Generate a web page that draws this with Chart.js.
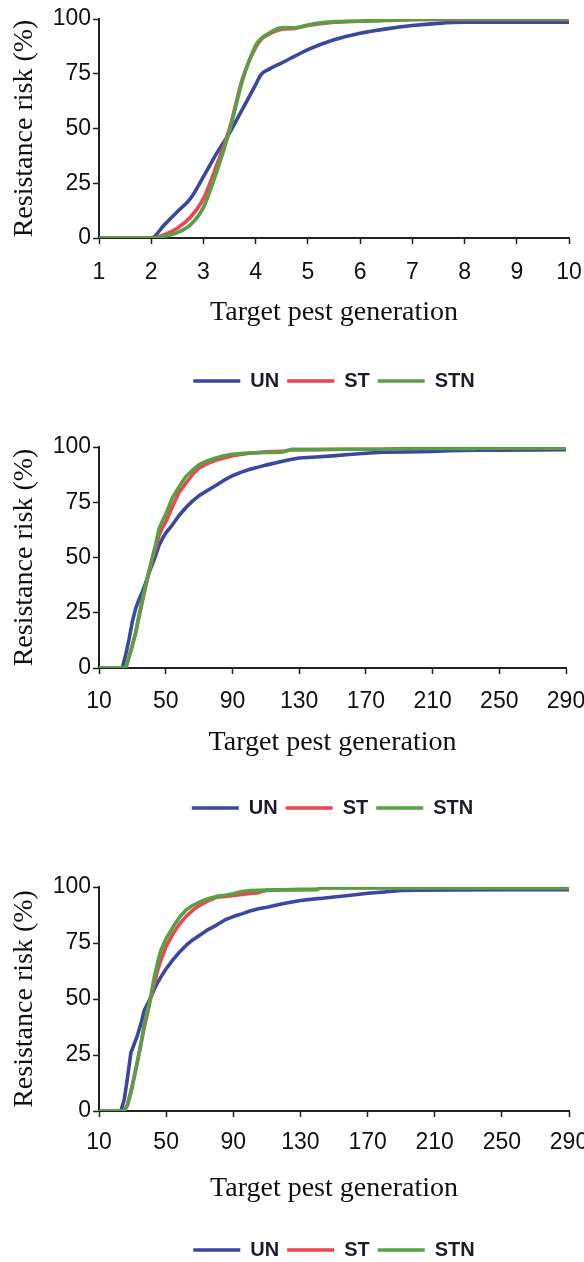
<!DOCTYPE html>
<html>
<head>
<meta charset="utf-8">
<script src="https://cdn.jsdelivr.net/npm/chart.js@4.4.1/dist/chart.umd.min.js"></script>
<style>
html,body{margin:0;padding:0;background:#fff;width:584px;height:1262px;overflow:hidden}
.box{position:absolute;left:0;width:584px}
canvas{display:block}
</style>
</head>
<body>
<div class="box" style="top:0"><canvas id="c1" width="584" height="410"></canvas></div>
<div class="box" style="top:410px"><canvas id="c2" width="584" height="430"></canvas></div>
<div class="box" style="top:840px"><canvas id="c3" width="584" height="430"></canvas></div>
<script>
/* resistance risk curves, 3 panels */
const seriesNames=['UN','ST','STN'];
const seriesColors=['#3a47a3','#ec4651','#58a044'];
const yTicks=[0,25,50,75,100];

// panel 1 (generations 1-10)
const xTicks1=[1,2,3,4,5,6,7,8,9,10];
const gen1=[1,2,2.25,2.5,2.75,3,3.25,3.5,3.75,4,4.1,4.25,4.5,4.75,5,5.5,6,6.5,7,7.5,8,9,10];
const un1=[0,0,6,12,18,28,38.5,48,59,70,74.5,77,80,83,86,90.5,93.5,95.5,97,98,98.5,98.5,98.5];
const st1=[0,0,1.5,4.5,9.5,18,33,50,73,87,90.5,93,95.3,95.7,97,98.5,99,99.3,99.7,99.8,99.8,99.8,99.8];
const stn1=[0,0,0.8,2.5,6,14,30,49,72,88,91,93.5,96,96,97.3,98.8,99,99.5,99.8,100,100,100,100];

// panel 2 (generations 10-290)
const xTicks2=[10,50,90,130,170,210,250,290];
const gen2=[10,24,26,28,30,32,34,36,38,40,42,44,46,48,50,54,58,62,66,70,75,80,85,90,95,100,110,120,125,130,140,150,160,170,180,192,194,210,220,236,238,250,270,290];
const un2=[0,0,6,13,21,27,31,34.5,38.5,43,47,51,55.5,58.5,61,64.8,69,72.5,75.5,78,80.3,82.6,85,87,88.5,89.8,91.8,93.5,94.3,95,95.5,96,96.6,97.2,97.6,97.8,97.8,98,98.3,98.5,98.5,98.6,98.7,98.8];
const st2=[0,0,0,5,10.5,16,23,30,37,43.5,49.5,54.5,60,63.5,66,73,79.5,83.5,87.5,90.5,92.5,94,95,96,96.6,97.2,97.8,98,98.8,98.8,98.8,98.9,99,99,99,99.2,100,100,100,100,99.5,99.5,99.5,99.5];
const stn2=[0,0,0,5,10,16,24,31,37.5,44,50,56,63,66.5,69.5,77,82,86.5,89.5,92,93.8,95,96,96.7,97,97.3,97.5,97.7,98.8,98.8,98.9,99,99,99,99,99.2,99.2,99.3,99.3,99.4,99.5,99.6,99.6,99.6];

// panel 3 (generations 10-290)
const xTicks3=[10,50,90,130,170,210,250,290];
const gen3=[10,23,25,27,29,31,33,35,37,39,41,43,45,47,50,54,58,62,66,70,75,80,85,90,95,100,105,110,120,130,140,142,150,160,170,180,190,200,220,250,290];
const un3=[0,0,5,15,26,30,34,39,45,48,51,54.5,57.5,60,63.5,67.5,71,74,76.5,78.5,81,83,85.3,86.8,88,89.3,90.3,91,92.6,94,94.8,94.9,95.5,96.3,97.2,97.8,98.5,98.6,98.7,98.8,98.8];
const st3=[0,0,0,3,9,15.5,22.5,30,37.5,44,51,57,63,67.5,73.5,79,83.5,87,89.7,91.8,93.8,95.4,95.8,96.2,96.7,97.1,97.5,98.5,98.8,99,99,99.7,99.7,99.7,99.7,99.7,99.7,99.7,99.7,99.7,99.7];
const stn3=[0,0,0,2.5,8,15,22.5,30,39,45,52,60,66.5,72,77,82,86.6,89.8,91.8,93.3,94.8,95.8,96.3,97,98,98.4,98.5,98.6,98.7,98.7,98.8,99.6,99.6,99.6,99.6,99.6,99.6,99.6,99.6,99.6,99.6];

const sans="'Liberation Sans', Arial, sans-serif";
const serif="'Liberation Serif', 'Times New Roman', serif";

function panel(id,gen,vals,xTicks,o){
  const ds=vals.map((v,i)=>({
    label:seriesNames[i],
    data:gen.map((g,j)=>({x:g,y:v[j]})),
    borderColor:seriesColors[i],backgroundColor:seriesColors[i],
    borderWidth:3.6,pointRadius:0,borderCapStyle:'round',borderJoinStyle:'round',
    cubicInterpolationMode:o.smooth?'monotone':'default',tension:0,
    order:3-i
  }));
  return new Chart(document.getElementById(id),{
    type:'line',
    data:{datasets:ds},
    options:{
      responsive:false,animation:false,events:[],
      layout:{autoPadding:false,padding:{left:0,right:o.right,top:o.top,bottom:o.bottom}},
      plugins:{
        tooltip:{enabled:false},
        legend:{position:'bottom',fullSize:false,
          labels:{usePointStyle:true,pointStyle:'line',pointStyleWidth:47,padding:8,color:'#1c1c2c',
            font:{family:sans,size:20,weight:'bold'},
            sort:(a,b)=>a.datasetIndex-b.datasetIndex}}
      },
      scales:{
        x:{type:'linear',min:xTicks[0],max:xTicks[xTicks.length-1],
          afterBuildTicks:s=>{s.ticks=xTicks.map(v=>({value:v}));},
          afterFit:s=>{s.height=o.xh;s.paddingLeft=0;s.paddingRight=0;},
          grid:{drawOnChartArea:false,tickLength:6,color:'#222',tickWidth:1.5},
          border:{color:'#222',width:2},
          ticks:{padding:o.tp,color:'#111',maxRotation:0,autoSkip:false,font:{family:sans,size:23}},
          title:{display:true,text:'Target pest generation',color:'#111',font:{family:serif,size:28},padding:{top:0,bottom:o.tgap}}
        },
        y:{min:0,max:100,
          afterBuildTicks:s=>{s.ticks=yTicks.map(v=>({value:v}));},
          afterFit:s=>{s.width=99;s.paddingTop=0;s.paddingBottom=0;},
          grid:{drawOnChartArea:false,tickLength:6,color:'#222',tickWidth:1.5},
          border:{color:'#222',width:2},
          ticks:{padding:2,color:'#111',font:{family:sans,size:23}},
          title:{display:true,text:'Resistance risk (%)',color:'#111',font:{family:serif,size:28},padding:{top:8,bottom:0}}
        }
      }
    }
  });
}

panel('c1',gen1,[un1,st1,stn1],xTicks1,{smooth:true,top:19,right:15,bottom:9,xh:125,tp:15,tgap:34});
panel('c2',gen2,[un2,st2,stn2],xTicks2,{smooth:false,top:37,right:18,bottom:12,xh:122,tp:14,tgap:31});
panel('c3',gen3,[un3,st3,stn3],xTicks3,{smooth:false,top:47,right:15,bottom:0,xh:121,tp:12,tgap:27});
</script>
</body>
</html>
